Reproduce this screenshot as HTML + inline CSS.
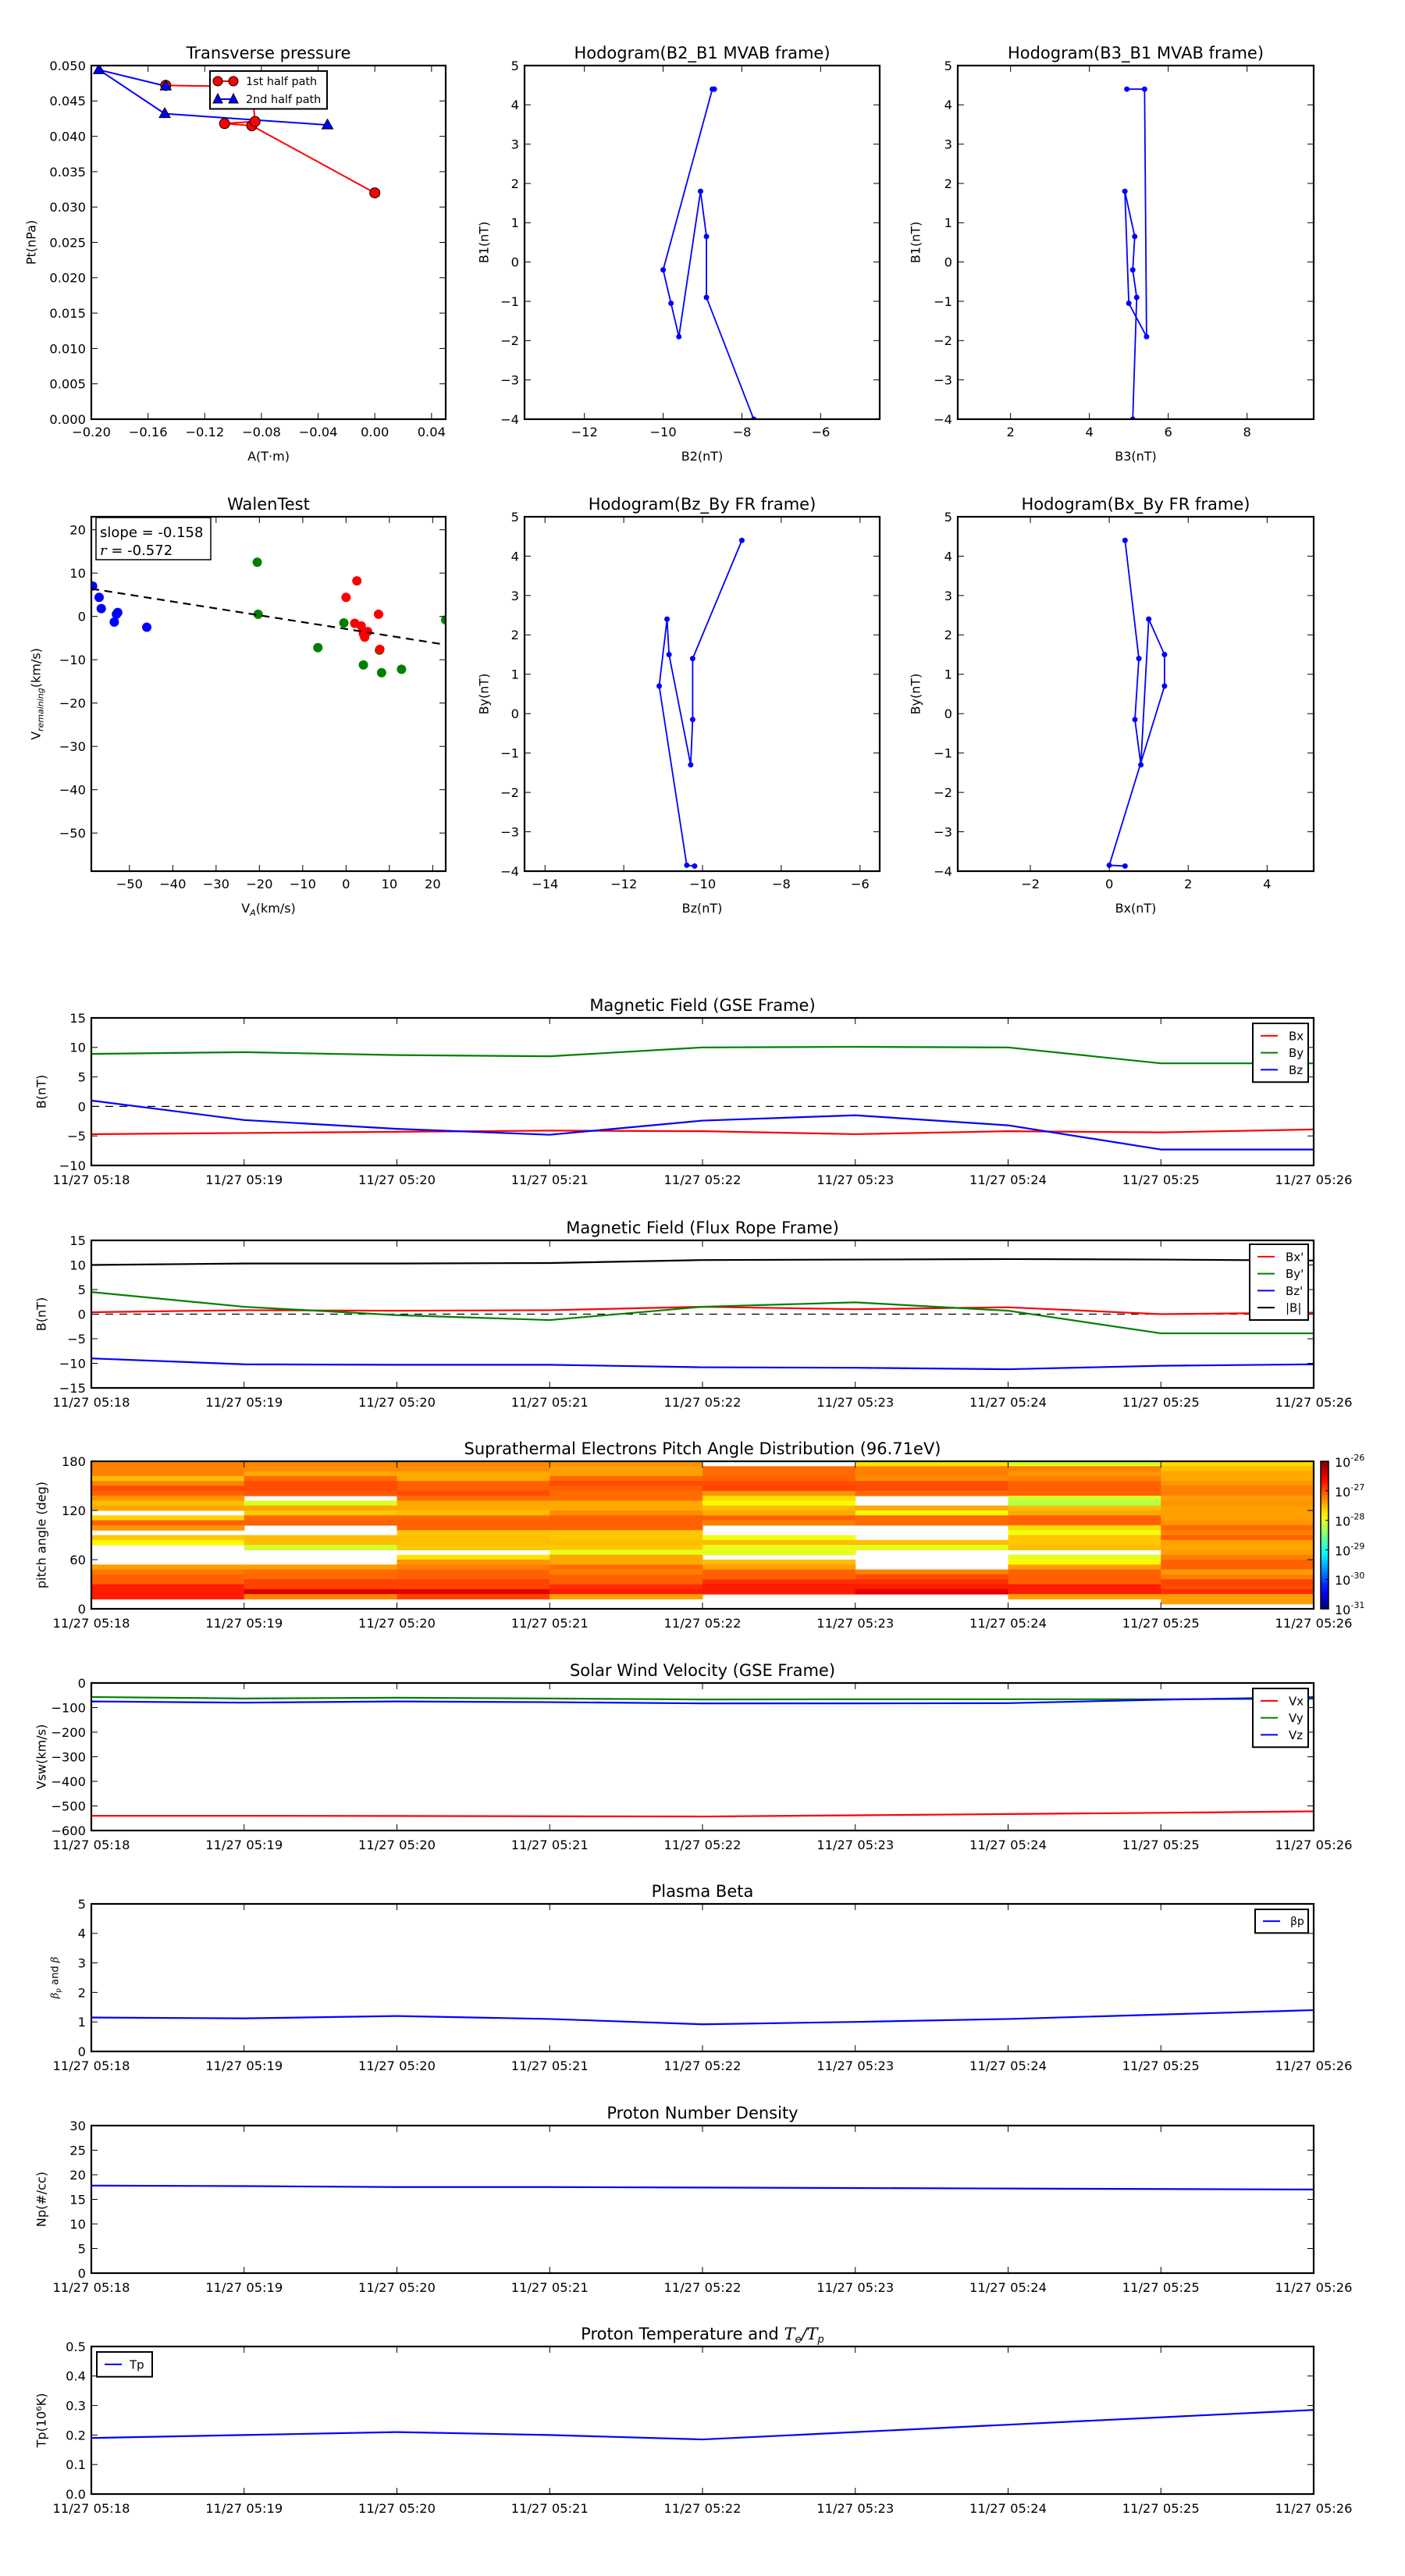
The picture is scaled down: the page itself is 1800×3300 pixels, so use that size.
<!DOCTYPE html>
<html><head><meta charset="utf-8">
<style>
html,body{margin:0;padding:0;background:#fff;}
svg{display:block;font-family:"DejaVu Sans","Liberation Sans",sans-serif;}
</style></head>
<body>
<svg id="fig" xmlns="http://www.w3.org/2000/svg" width="1800" height="3300" viewBox="0 0 1800 3300">
<rect x="0" y="0" width="1800" height="3300" fill="#fff"/>
</svg>
<script>
// ---------------- DATA ----------------
const tp1A = [0.0, -0.0868, -0.106, -0.0845, -0.087, -0.1475];
const tp1P = [0.032, 0.0415, 0.0418, 0.0421, 0.047, 0.0472];
const tp2A = [-0.1475, -0.1946, -0.1482, -0.0334];
const tp2P = [0.0471, 0.0494, 0.0432, 0.0416];
const h1X = [-7.7, -8.9, -8.9, -9.05, -9.6, -9.8, -10.0, -8.75, -8.7];
const h1Y = [-4.0, -0.9, 0.65, 1.8, -1.9, -1.05, -0.2, 4.4, 4.4];
const h2X = [5.1, 5.2, 5.1, 5.15, 4.9, 5.0, 5.45, 5.4, 4.95];
const h2Y = [-4.0, -0.9, -0.2, 0.65, 1.8, -1.05, -1.9, 4.4, 4.4];
const h3X = [-9.0, -10.25, -10.25, -10.3, -10.85, -10.9, -11.1, -10.4, -10.2];
const h3Y = [4.4, 1.4, -0.15, -1.3, 1.5, 2.4, 0.7, -3.85, -3.87];
const h4X = [0.4, 0.75, 0.65, 0.8, 1.0, 1.4, 1.4, 0.0, 0.4];
const h4Y = [4.4, 1.4, -0.15, -1.3, 2.4, 1.5, 0.7, -3.85, -3.87];
const wBlueX = [-58.5, -57, -56.5, -53, -53.5, -52.7, -46];
const wBlueY = [7, 4.4, 1.8, 0.5, -1.3, 0.9, -2.5];
const wGreenX = [-20.5, -20.3, -6.5, -0.5, 4, 7.7, 8.2, 12.8, 23];
const wGreenY = [12.5, 0.5, -7.2, -1.5, -11.2, -7.8, -13, -12.2, -0.8];
const wRedX = [0, 2.5, 7.5, 2, 3.5, 4, 4.3, 5, 7.8];
const wRedY = [4.4, 8.2, 0.5, -1.6, -2.2, -4, -4.8, -3.5, -7.6];
const wSlope = -0.158;
const wIntercept = -2.9;
const times = [0, 1, 2, 3, 4, 5, 6, 7, 8];
const timeLabels = ["11/27 05:18","11/27 05:19","11/27 05:20","11/27 05:21","11/27 05:22","11/27 05:23","11/27 05:24","11/27 05:25","11/27 05:26"];
const gseBx = [-4.7, -4.5, -4.3, -4.1, -4.2, -4.7, -4.2, -4.4, -3.9];
const gseBy = [8.9, 9.2, 8.7, 8.5, 10.0, 10.1, 10.0, 7.3, 7.3];
const gseBz = [1.0, -2.3, -3.8, -4.8, -2.4, -1.5, -3.2, -7.3, -7.3];
const frBx = [0.4, 0.8, 0.7, 0.8, 1.5, 1.0, 1.4, 0.0, 0.3];
const frBy = [4.5, 1.5, -0.2, -1.2, 1.5, 2.4, 0.7, -3.9, -3.9];
const frBz = [-9.0, -10.2, -10.3, -10.3, -10.8, -10.9, -11.2, -10.5, -10.2];
const frBt = [10.0, 10.3, 10.3, 10.4, 11.0, 11.1, 11.2, 11.1, 10.9];
const swVx = [-540, -540, -541, -542, -543, -538, -533, -528, -522];
const swVy = [-57, -63, -60, -63, -67, -66, -66, -66, -64];
const swVz = [-75, -80, -75, -78, -83, -83, -82, -68, -58];
const betaP = [1.15, 1.12, 1.2, 1.1, 0.92, 1.0, 1.1, 1.25, 1.4];
const np = [17.8, 17.7, 17.5, 17.5, 17.4, 17.3, 17.2, 17.1, 17.0];
const tpK = [0.19, 0.2, 0.21, 0.2, 0.185, 0.21, 0.235, 0.26, 0.285];
const pad0 = [-27.25,-27.25,-27.25,-27.55,-27.25,-27.0,-27.1,-27.35,-27.55,-27.45,null,-27.65,-27.1,-27.35,null,-27.6,-27.85,null,null,null,null,-27.4,-27.2,-27.1,-27.1,-26.75,-26.75,-26.75,null,null];
const pad1 = [-27.3,-27.3,-27.45,-27.15,-27.0,-27.0,-27.05,null,-28.05,-27.45,-27.6,-27.15,-27.1,null,null,-27.55,-27.55,-28.1,null,null,null,-27.4,-27.15,-27.15,-26.95,-26.95,-26.45,-27.25,null,null];
const pad2 = [-27.3,-27.3,-27.45,-27.45,-27.1,-27.1,-27.0,-27.15,-27.45,-27.45,-27.55,-27.15,-27.1,-27.1,-27.6,-27.55,-27.55,-27.6,null,-27.75,-27.35,-27.25,-27.1,-27.1,-26.95,-26.95,-26.5,-26.95,null,null];
const pad3 = [-27.35,-27.4,-27.4,-27.15,-27.0,-27.1,-27.15,-27.15,-27.45,-27.45,-27.3,-27.1,-27.1,-27.1,-27.6,-27.6,-27.55,-27.6,-28.0,-27.45,-27.45,-27.15,-27.25,-27.1,-27.1,-26.85,-26.75,-27.4,null,null];
const pad4 = [null,-27.15,-27.15,-27.1,-27.0,-26.95,-27.35,-27.7,-27.85,-27.55,-27.45,-27.1,-27.25,null,null,-27.95,-27.55,-28.0,-28.0,null,-27.55,-27.4,-27.1,-27.1,-26.85,-26.75,-26.75,null,null,null];
const pad5 = [-27.75,-27.25,-27.25,-27.3,-27.0,-27.0,-27.15,null,null,-27.45,-27.85,-27.15,-27.15,null,null,null,-27.55,-28.0,null,null,null,null,-27.25,-27.0,-26.85,-26.75,-26.5,null,null,null];
const pad6 = [-28.05,-27.25,-27.35,-27.25,-27.1,-27.1,-27.1,-28.1,-28.25,-27.55,-27.45,-27.1,-27.1,-27.7,-27.95,-27.6,-27.6,-27.55,null,-28.0,-27.85,-27.4,-27.1,-27.1,-27.1,-26.75,-26.75,-27.4,null,null];
const pad7 = [-27.7,-27.55,-27.45,-27.45,-27.35,-27.25,-27.25,-27.4,-27.35,-27.4,-27.4,-27.4,-27.35,-27.15,-27.25,-27.1,-27.4,-27.45,-27.4,-27.25,-27.1,-27.1,-27.4,-27.25,-26.95,-27.0,-26.85,-27.4,-27.4,null];
const cbTicks = [-31, -30, -29, -28, -27, -26];

// ---------------- HELPERS ----------------
const NS = "http://www.w3.org/2000/svg";
const svg = document.getElementById('fig');
let clipN = 0;
function el(tag, attrs, parent) {
  const e = document.createElementNS(NS, tag);
  for (const k in attrs) e.setAttribute(k, attrs[k]);
  (parent || svg).appendChild(e);
  return e;
}
function txt(str, attrs, parent) {
  const t = el('text', attrs, parent);
  t.textContent = str;
  return t;
}
function jet(v) {
  let t = (v + 31) / 5; t = Math.max(0, Math.min(1, t));
  const c = x => Math.round(255 * Math.max(0, Math.min(1, x)));
  const r = c(1.5 - Math.abs(4 * t - 3)), g = c(1.5 - Math.abs(4 * t - 2)), b = c(1.5 - Math.abs(4 * t - 1));
  return `rgb(${r},${g},${b})`;
}

function makeAxes(o) {
  const g = el('g', {});
  
  
  const sx = v => o.x0 + (v - o.xmin) / (o.xmax - o.xmin) * (o.x1 - o.x0);
  const sy = v => o.y1 - (v - o.ymin) / (o.ymax - o.ymin) * (o.y1 - o.y0);
  clipN++;
  const cp = el('clipPath', { id: 'clip' + clipN }, g);
  el('rect', { x: o.x0, y: o.y0, width: o.x1 - o.x0, height: o.y1 - o.y0 }, cp);
  const plot = el('g', { 'clip-path': `url(#clip${clipN})` }, g);
  
  
  const fs = o.fs || 16.3;
  const xt = el('g', {}, g);
  
  
  o.xticks.forEach((v, i) => {
    const x = sx(v);
    el('line', { x1: x, y1: o.y1, x2: x, y2: o.y1 - 8, stroke: '#000', 'stroke-width': 1 }, xt);
    el('line', { x1: x, y1: o.y0, x2: x, y2: o.y0 + 8, stroke: '#000', 'stroke-width': 1 }, xt);
    const t = txt(o.xlabels[i], { x: x, y: o.y1 + (o.xtOff || 23), 'text-anchor': 'middle', 'font-size': fs }, xt);
    
    
  });
  const yt = el('g', {}, g);
  
  
  o.yticks.forEach((v, i) => {
    const y = sy(v);
    el('line', { x1: o.x0, y1: y, x2: o.x0 + 8, y2: y, stroke: '#000', 'stroke-width': 1 }, yt);
    el('line', { x1: o.x1, y1: y, x2: o.x1 - 8, y2: y, stroke: '#000', 'stroke-width': 1 }, yt);
    const t = txt(o.ylabels[i], { x: o.x0 - 7, y: y + fs * 0.36, 'text-anchor': 'end', 'font-size': fs }, yt);
    
    
  });
  if (o.title) {
    const t = txt(o.title, { x: (o.x0 + o.x1) / 2, y: o.y0 - 9, 'text-anchor': 'middle', 'font-size': o.tfs || 21 }, g);
    
    
    o.titleEl = t;
  }
  if (o.xlabel) {
    const t = txt(o.xlabel, { x: (o.x0 + o.x1) / 2, y: o.y1 + 53, 'text-anchor': 'middle', 'font-size': 16 }, g);
    
    
    o.xlabelEl = t;
  }
  if (o.ylabel !== undefined) {
    const cx = o.ylx, cy = (o.y0 + o.y1) / 2;
    const t = txt(o.ylabel, { x: cx, y: cy, 'text-anchor': 'middle', 'font-size': o.ylfs || 16, transform: `rotate(-90 ${cx} ${cy})`, dy: '0.35em' }, g);
    
    
    o.ylabelEl = t;
  }
  return { g, plot, sx, sy, o };
}
function frame(ax) {
  const o = ax.o;
  const r = el('rect', { x: o.x0, y: o.y0, width: o.x1 - o.x0, height: o.y1 - o.y0, fill: 'none', stroke: '#000', 'stroke-width': 2.2 }, ax.g);
  
  
}
function line(ax, xs, ys, color, name, w) {
  const pts = xs.map((x, i) => ax.sx(x).toFixed(2) + ',' + ax.sy(ys[i]).toFixed(2)).join(' ');
  const p = el('polyline', { points: pts, fill: 'none', stroke: color, 'stroke-width': w || 2.2, 'stroke-linejoin': 'round' }, ax.plot);
  
  
  return p;
}
function dots(ax, xs, ys, color, r, name, parent) {
  xs.forEach((x, i) => {
    const c = el('circle', { cx: ax.sx(x), cy: ax.sy(ys[i]), r: r, fill: color, stroke: 'none' }, parent || ax.plot);
    
    
  });
}
function legend(ax, x, y, w, entries, fs) {
  const g = el('g', {}, ax.g);
  
  
  const rh = fs * 1.45;
  el('rect', { x: x, y: y, width: w, height: entries.length * rh + 10, fill: '#fff', stroke: '#000', 'stroke-width': 2 }, g);
  entries.forEach((e, i) => {
    const yy = y + 5 + rh * (i + 0.5);
    const le = el('g', {}, g);
    
    
    el('line', { x1: x + 10, y1: yy, x2: x + 32, y2: yy, stroke: e.c, 'stroke-width': 2 }, le);
    const t = txt(e.label, { x: x + (e.tx || 46), y: yy + fs * 0.36, 'font-size': fs }, le);
    
    
  });
}

function fmt(v, d) { return (v < 0 ? '\u2212' : '') + Math.abs(v).toFixed(d); }
function range(a, b, s) { const r = []; for (let v = a; v <= b + 1e-9; v += s) r.push(+v.toFixed(6)); return r; }

// Transverse pressure
(function () {
  const xt = range(-0.2, 0.04, 0.04), yt = range(0, 0.05, 0.005);
  const ax = makeAxes({ name: 'transverse-pressure-chart', x0: 117, x1: 571, y0: 84, y1: 537, xmin: -0.2, xmax: 0.05, ymin: 0, ymax: 0.05,
    xticks: xt, xlabels: xt.map(v => fmt(v, 2)), yticks: yt, ylabels: yt.map(v => v.toFixed(3)),
    title: 'Transverse pressure', xlabel: 'A(T\u00b7m)', ylabel: 'Pt(nPa)', ylx: 40, xtOff: 22 });
  line(ax, tp1A, tp1P, '#f00', 'first-half-path-line', 2);
  line(ax, tp2A, tp2P, '#00f', 'second-half-path-line', 2);
  tp1A.forEach((a, i) => {
    const c = el('circle', { cx: ax.sx(a), cy: ax.sy(tp1P[i]), r: 6.5, fill: '#f00', stroke: '#000', 'stroke-width': 1 }, ax.plot);
    
    
  });
  tp2A.forEach((a, i) => {
    const x = ax.sx(a), y = ax.sy(tp2P[i]);
    const p = el('polygon', { points: `${x},${y - 7.5} ${x - 7},${y + 5} ${x + 7},${y + 5}`, fill: '#00f', stroke: '#000', 'stroke-width': 1 }, ax.plot);
    
    
  });
  frame(ax);
  const lg = el('g', {}, ax.g);
  
  
  el('rect', { x: 269, y: 91, width: 150, height: 48.5, fill: '#fff', stroke: '#000', 'stroke-width': 2 }, lg);
  const e1 = el('g', {}, lg);
  
  
  el('line', { x1: 279, y1: 104, x2: 299, y2: 104, stroke: '#f00', 'stroke-width': 2 }, e1);
  el('circle', { cx: 279, cy: 104, r: 6, fill: '#f00', stroke: '#000' }, e1);
  el('circle', { cx: 299, cy: 104, r: 6, fill: '#f00', stroke: '#000' }, e1);
  txt('1st half path', { x: 315, y: 109, 'font-size': 14.4 }, e1);
  const e2 = el('g', {}, lg);
  
  
  el('line', { x1: 279, y1: 127, x2: 299, y2: 127, stroke: '#00f', 'stroke-width': 2 }, e2);
  el('polygon', { points: '279,120 273,132 285,132', fill: '#00f', stroke: '#000' }, e2);
  el('polygon', { points: '299,120 293,132 305,132', fill: '#00f', stroke: '#000' }, e2);
  txt('2nd half path', { x: 315, y: 132, 'font-size': 14.4 }, e2);
})();

function hodo(name, title, x0, x1, y0, y1, xmin, xmax, xt, xs, ys, xl, yl, ylx) {
  const yt = range(-4, 5, 1);
  const ax = makeAxes({ name, x0, x1, y0, y1, xmin, xmax, ymin: -4, ymax: 5,
    xticks: xt, xlabels: xt.map(v => fmt(v, 0)), yticks: yt, ylabels: yt.map(v => fmt(v, 0)),
    title, xlabel: xl, ylabel: yl, ylx, xtOff: 22 });
  line(ax, xs, ys, '#00f', 'hodogram-line', 1.8);
  dots(ax, xs, ys, '#00f', 3.5, 'hodogram-point');
  frame(ax);
  return ax;
}
hodo('hodogram-b2-b1', 'Hodogram(B2_B1 MVAB frame)', 672, 1127, 84, 537, -13.52, -4.5, [-12, -10, -8, -6], h1X, h1Y, 'B2(nT)', 'B1(nT)', 620);
hodo('hodogram-b3-b1', 'Hodogram(B3_B1 MVAB frame)', 1227, 1683, 84, 537, 0.66, 9.69, [2, 4, 6, 8], h2X, h2Y, 'B3(nT)', 'B1(nT)', 1173);
hodo('hodogram-bz-by', 'Hodogram(Bz_By FR frame)', 672, 1127, 662, 1116, -14.52, -5.5, [-14, -12, -10, -8, -6], h3X, h3Y, 'Bz(nT)', 'By(nT)', 620);
hodo('hodogram-bx-by', 'Hodogram(Bx_By FR frame)', 1227, 1683, 662, 1116, -3.84, 5.18, [-2, 0, 2, 4], h4X, h4Y, 'Bx(nT)', 'By(nT)', 1173);

// Walen test
(function () {
  const xt = range(-50, 20, 10), yt = range(-50, 20, 10);
  const ax = makeAxes({ name: 'walen-test-chart', x0: 117, x1: 571, y0: 662, y1: 1116, xmin: -58.8, xmax: 23, ymin: -58.8, ymax: 23,
    xticks: xt, xlabels: xt.map(v => fmt(v, 0)), yticks: yt, ylabels: yt.map(v => fmt(v, 0)), title: 'WalenTest', xtOff: 22 });
  dots(ax, wBlueX, wBlueY, '#00f', 6, 'walen-point-blue');
  dots(ax, wGreenX, wGreenY, '#008000', 6, 'walen-point-green');
  dots(ax, wRedX, wRedY, '#f00', 6, 'walen-point-red');
  const fx = [ax.o.xmin, ax.o.xmax];
  const fl = el('line', { x1: ax.sx(fx[0]), y1: ax.sy(wIntercept + wSlope * fx[0]), x2: ax.sx(fx[1]), y2: ax.sy(wIntercept + wSlope * fx[1]), stroke: '#000', 'stroke-width': 2.2, 'stroke-dasharray': '10,7' }, ax.plot);
  
  
  frame(ax);
  const bx = el('g', {}, ax.g);
  
  
  el('rect', { x: 123, y: 663, width: 147, height: 54, fill: '#fff', stroke: '#000', 'stroke-width': 1.5 }, bx);
  txt('slope = -0.158', { x: 128, y: 688, 'font-size': 18 }, bx);
  const t2 = txt('', { x: 128, y: 711, 'font-size': 18 }, bx);
  const s1 = el('tspan', { 'font-style': 'italic', 'font-family': 'DejaVu Serif, serif' }, t2); s1.textContent = 'r';
  const s2 = el('tspan', {}, t2); s2.textContent = ' = -0.572';
  const xl = txt('V', { x: 344, y: 1169, 'text-anchor': 'middle', 'font-size': 16 }, ax.g);
  
  
  const a = el('tspan', { 'font-size': 11, 'font-style': 'italic', dy: 4 }, xl); a.textContent = 'A';
  const b = el('tspan', { dy: -4 }, xl); b.textContent = '(km/s)';
  const yl = txt('V', { x: 46, y: 889, 'text-anchor': 'middle', 'font-size': 16, transform: 'rotate(-90 46 889)', dy: '0.35em' }, ax.g);
  
  
  const c = el('tspan', { 'font-size': 11, 'font-style': 'italic', dy: 4 }, yl); c.textContent = 'remaining';
  const d = el('tspan', { dy: -4 }, yl); d.textContent = '(km/s)';
})();

// ---------------- TIME SERIES ----------------
const TX0 = 117, TX1 = 1683, TH = 189;
function tsAxes(name, top, ymin, ymax, yt, yl, title, ylabel) {
  return makeAxes({ name, x0: TX0, x1: TX1, y0: top, y1: top + TH, xmin: 0, xmax: 8, ymin, ymax,
    xticks: times, xlabels: timeLabels, yticks: yt, ylabels: yl, title, ylabel, ylx: 53, xtOff: 24 });
}
function zeroLine(ax) {
  const z = el('line', { x1: TX0, y1: ax.sy(0), x2: TX1, y2: ax.sy(0), stroke: '#000', 'stroke-width': 1.2, 'stroke-dasharray': '10,8' }, ax.plot);
  
  
}
(function () {
  const yt = range(-10, 15, 5);
  const ax = tsAxes('magnetic-field-gse-chart', 1304, -10, 15, yt, yt.map(v => fmt(v, 0)), 'Magnetic Field (GSE Frame)', 'B(nT)');
  zeroLine(ax);
  line(ax, times, gseBx, '#f00', 'series-bx');
  line(ax, times, gseBy, '#008000', 'series-by');
  line(ax, times, gseBz, '#00f', 'series-bz');
  frame(ax);
  legend(ax, 1605, 1311, 71, [{ c: '#f00', label: 'Bx' }, { c: '#008000', label: 'By' }, { c: '#00f', label: 'Bz' }], 15);
})();
(function () {
  const yt = range(-15, 15, 5);
  const ax = tsAxes('magnetic-field-flux-rope-chart', 1589, -15, 15, yt, yt.map(v => fmt(v, 0)), 'Magnetic Field (Flux Rope Frame)', 'B(nT)');
  zeroLine(ax);
  line(ax, times, frBx, '#f00', "series-bx-prime");
  line(ax, times, frBy, '#008000', "series-by-prime");
  line(ax, times, frBz, '#00f', "series-bz-prime");
  line(ax, times, frBt, '#000', 'series-b-magnitude');
  frame(ax);
  legend(ax, 1601, 1594, 75, [{ c: '#f00', label: "Bx'" }, { c: '#008000', label: "By'" }, { c: '#00f', label: "Bz'" }, { c: '#000', label: '|B|' }], 15);
})();
(function () {
  const yt = [0, 60, 120, 180];
  const ax = tsAxes('pitch-angle-distribution-chart', 1872, 0, 180, yt, yt.map(String), 'Suprathermal Electrons Pitch Angle Distribution (96.71eV)', 'pitch angle (deg)');
  const cols = [pad0, pad1, pad2, pad3, pad4, pad5, pad6, pad7];
  cols.forEach((col, c) => {
    col.forEach((v, r) => {
      if (v === null) return;
      const hi = 180 - 6 * r, lo = hi - 6;
      const x = ax.sx(times[c]), y = ax.sy(hi);
      const rc = el('rect', { x: x, y: y, width: ax.sx(times[c + 1]) - x + 0.5, height: ax.sy(lo) - y + 0.5, fill: jet(v) }, ax.plot);
      
      
    });
  });
  frame(ax);
  const cb = el('g', {}, svg);
  
  
  const cx0 = 1692, cw = 10, cy0 = 1872, ch = 189;
  const grad = el('linearGradient', { id: 'jetgrad', x1: 0, y1: 1, x2: 0, y2: 0 }, cb);
  for (let i = 0; i <= 20; i++) el('stop', { offset: i / 20, 'stop-color': jet(-31 + 5 * i / 20) }, grad);
  el('rect', { x: cx0, y: cy0, width: cw, height: ch, fill: 'url(#jetgrad)', stroke: '#000', 'stroke-width': 1.5 }, cb);
  cbTicks.forEach(v => {
    const y = cy0 + ch - (v + 31) / 5 * ch;
    el('line', { x1: cx0 + cw - 4, y1: y, x2: cx0 + cw, y2: y, stroke: '#000' }, cb);
    const t = txt('10', { x: cx0 + cw + 8, y: y + 7, 'font-size': 16 }, cb);
    
    
    const s = el('tspan', { 'font-size': 11, dy: -8 }, t); s.textContent = String(v);
  });
})();
(function () {
  const yt = range(-600, 0, 100);
  const ax = tsAxes('solar-wind-velocity-chart', 2156, -600, 0, yt, yt.map(v => fmt(v, 0)), 'Solar Wind Velocity (GSE Frame)', 'Vsw(km/s)');
  line(ax, times, swVx, '#f00', 'series-vx');
  line(ax, times, swVy, '#008000', 'series-vy');
  line(ax, times, swVz, '#00f', 'series-vz');
  frame(ax);
  legend(ax, 1605, 2163, 71, [{ c: '#f00', label: 'Vx' }, { c: '#008000', label: 'Vy' }, { c: '#00f', label: 'Vz' }], 15);
})();
(function () {
  const yt = range(0, 5, 1);
  const ax = tsAxes('plasma-beta-chart', 2439, 0, 5, yt, yt.map(String), 'Plasma Beta', '');
  line(ax, times, betaP, '#00f', 'series-beta-p');
  frame(ax);
  const yl = ax.o.ylabelEl;
  yl.setAttribute('font-size', 13);
  yl.textContent = '';
  const a = el('tspan', { 'font-style': 'italic', 'font-family': 'DejaVu Serif, serif' }, yl); a.textContent = '\u03b2';
  const b = el('tspan', { 'font-size': 9, dy: 3 }, yl); b.textContent = 'p';
  const c = el('tspan', { dy: -3 }, yl); c.textContent = ' and ';
  const d = el('tspan', { 'font-style': 'italic', 'font-family': 'DejaVu Serif, serif' }, yl); d.textContent = '\u03b2';
  yl.setAttribute('x', 70);
  yl.setAttribute('transform', `rotate(-90 70 ${2439 + TH / 2})`);
  legend(ax, 1608, 2446, 68, [{ c: '#00f', label: '\u03b2p', tx: 45 }], 14);
})();
(function () {
  const yt = range(0, 30, 5);
  const ax = tsAxes('proton-density-chart', 2723, 0, 30, yt, yt.map(String), 'Proton Number Density', 'Np(#/cc)');
  line(ax, times, np, '#00f', 'series-np');
  frame(ax);
})();
(function () {
  const yt = range(0, 0.5, 0.1);
  const ax = tsAxes('proton-temperature-chart', 3006, 0, 0.5, yt, yt.map(v => v.toFixed(1)), 'Proton Temperature and ', 'Tp(10\u2076K)');
  const a = el('tspan', { 'font-style': 'italic', 'font-family': 'DejaVu Serif, serif' }, ax.o.titleEl); a.textContent = 'T';
  const b = el('tspan', { 'font-size': 13, 'font-style': 'italic', dy: 4 }, ax.o.titleEl); b.textContent = 'e';
  const c = el('tspan', { dy: -4, 'font-style': 'italic', 'font-family': 'DejaVu Serif, serif' }, ax.o.titleEl); c.textContent = '/T';
  const d = el('tspan', { 'font-size': 13, 'font-style': 'italic', dy: 4 }, ax.o.titleEl); d.textContent = 'p';
  line(ax, times, tpK, '#00f', 'series-tp');
  frame(ax);
  legend(ax, 124, 3013, 71, [{ c: '#00f', label: 'Tp', tx: 42 }], 15);
})();
</script>
</body></html>
